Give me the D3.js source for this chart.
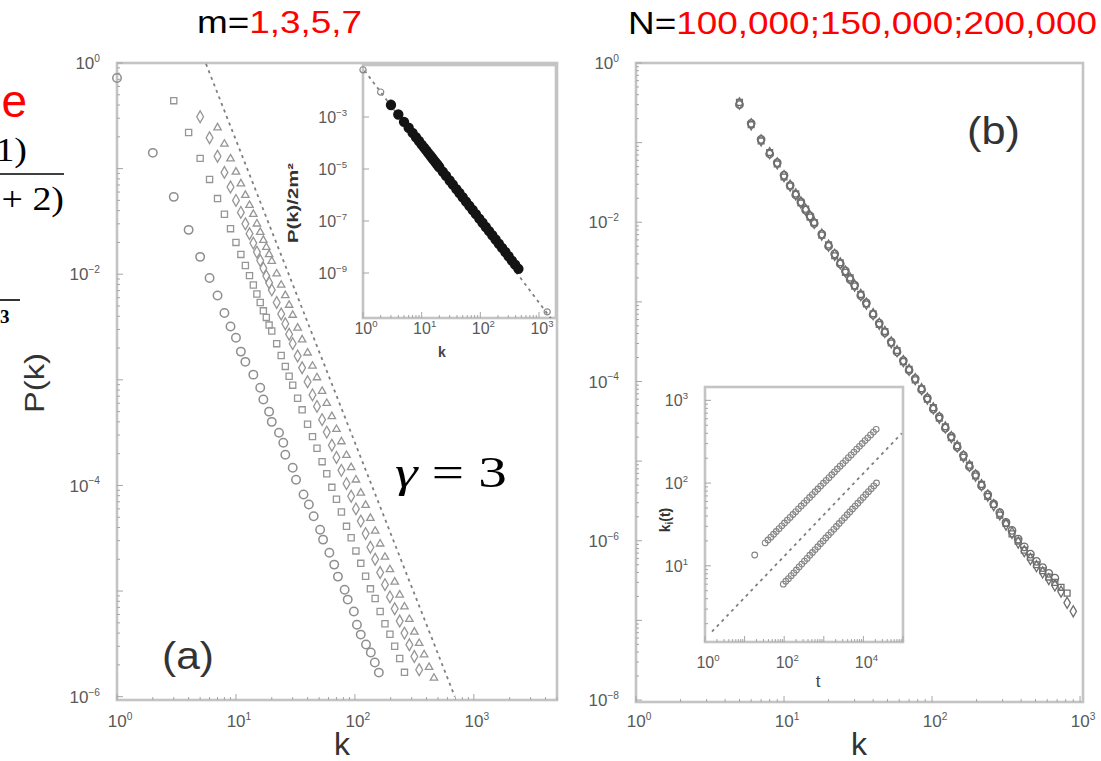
<!DOCTYPE html>
<html>
<head>
<meta charset="utf-8">
<script src="https://cdn.jsdelivr.net/npm/d3@7"></script>
<style>
  body { margin: 0; background: #fff; }
  svg { display: block; }
</style>
</head>
<body>
<svg id="chart" width="1101" height="761"></svg>
<script>
// ---- panel (a): P(k) for m = 1, 3, 5, 7 ----
const kA1 = [1,2,3,4,5,6,7,8,9,10,11,12,14,16,17,19,20,23,25,26,30,32,37,41,45,51,54,61,67,72,82,87,98,104,112,124,136,147,159];
const pA1 = [0.72,0.141,0.054,0.0263,0.0146,0.0092,0.0063,0.0043,0.0032,0.0025,0.00185,0.00148,0.00112,8.4e-4,6.5e-4,5.0e-4,4.0e-4,3.16e-4,2.54e-4,1.95e-4,1.47e-4,1.13e-4,8.2e-5,6.6e-5,5.1e-5,3.8e-5,3.07e-5,2.31e-5,1.78e-5,1.37e-5,1.03e-5,8.3e-6,6.4e-6,4.8e-6,3.87e-6,3.12e-6,2.62e-6,2.11e-6,1.69e-6];

const kA3 = [3,4,5,6,7,8,9,10,11,12,13,14,15,16,17,18,19,20,22,24,26,28,30,33,36,40,44,48,53,58,64,70,77,85,93,102,112,123,135,148,163,179,197,216,238,261];
const pA3 = [0.44,0.22,0.125,0.079,0.052,0.037,0.027,0.020,0.0154,0.0121,0.0097,0.0079,0.0065,0.0054,0.0045,0.0039,0.0033,0.0029,0.0022,0.0017,0.00134,0.00108,8.9e-4,6.7e-4,5.2e-4,3.8e-4,2.9e-4,2.25e-4,1.68e-4,1.29e-4,9.6e-5,7.4e-5,5.6e-5,4.1e-5,3.2e-5,2.4e-5,1.83e-5,1.38e-5,1.05e-5,8.5e-6,6.4e-6,4.9e-6,3.9e-6,3.0e-6,2.3e-6,1.7e-6];

const kA5 = [5,6,7,8,9,10,11,12,13,14,15,16,17,18,19,20,22,24,26,28,30,33,36,40,44,48,53,58,64,70,77,85,93,102,112,123,135,148,163,179,197,216,238,261,287,316,347];
const pA5 = [0.31,0.196,0.131,0.092,0.067,0.050,0.0385,0.030,0.0242,0.0197,0.0162,0.0135,0.0114,0.0096,0.0083,0.0071,0.0054,0.0042,0.0034,0.0027,0.0022,0.00168,0.0013,9.6e-4,7.2e-4,5.6e-4,4.2e-4,3.2e-4,2.4e-4,1.84e-4,1.39e-4,1.04e-4,7.9e-5,6.0e-5,4.6e-5,3.5e-5,2.6e-5,2.0e-5,1.5e-5,1.15e-5,8.8e-6,6.8e-6,5.2e-6,4.0e-6,3.1e-6,2.4e-6,1.8e-6];

const kA7 = [7,8,9,10,11,12,13,14,15,16,17,18,19,20,22,24,26,28,30,33,36,40,44,48,53,58,64,70,77,85,93,102,112,123,135,148,163,179,197,216,238,261,287,316,347,382,420,462];
const pA7 = [0.244,0.171,0.124,0.093,0.072,0.056,0.045,0.037,0.030,0.025,0.021,0.018,0.0154,0.0133,0.0101,0.0079,0.0063,0.0051,0.0041,0.0031,0.0024,0.0018,0.00135,0.00105,7.8e-4,6.0e-4,4.5e-4,3.4e-4,2.6e-4,1.93e-4,1.48e-4,1.13e-4,8.5e-5,6.5e-5,4.9e-5,3.7e-5,2.8e-5,2.1e-5,1.6e-5,1.22e-5,9.2e-6,7.1e-6,5.4e-6,4.1e-6,3.2e-6,2.5e-6,1.9e-6,1.5e-6];

// slope line (gamma = 3)
const dashA_k = [5.6, 692];
const dashA_p = [0.98, 1.0e-6];

// inset (a): rescaled P(k)/2m^2, collapsed band
const kIA = [3,4,5,6,7,8,9,10,11,12,13,14,15,16,17,18,19,20,23,26,30,34,39,44,50,57,65,74,84,96,109,124,141,160,182,207,235,267,303,345,392,446];
const pIA = [2.9e-3,1.25e-3,6.5e-4,3.85e-4,2.46e-4,1.67e-4,1.19e-4,8.7e-5,6.65e-5,5.2e-5,4.08e-5,3.3e-5,2.7e-5,2.24e-5,1.88e-5,1.59e-5,1.36e-5,1.17e-5,7.8e-6,5.5e-6,3.6e-6,2.52e-6,1.69e-6,1.19e-6,8.2e-7,5.6e-7,3.84e-7,2.64e-7,1.83e-7,1.24e-7,8.6e-8,5.9e-8,4.07e-8,2.82e-8,1.94e-8,1.34e-8,9.2e-9,6.4e-9,4.4e-9,3.0e-9,2.1e-9,1.45e-9];
const kIAsparse = [1, 2, 3, 1380];
const pIAsparse = [0.065, 9.1e-3, 3.5e-3, 3.2e-11];
const dashIA_k = [0.9, 1660];
const dashIA_p = [0.1, 1.6e-11];

// ---- panel (b): P(k) for N = 100,000 / 150,000 / 200,000 ----
const kB = [5,6,7,8,9,10,11,12,13,14,15,16,18,20,22,24,26,28,30,33,36,40,44,48,53,58,64,70,77,85,93,102,112,123,135,148,163,179,197,216,238,261,287,316,347,382,420,462,508,559,615,676,744,818,900];
const pB100 = [0.30,0.175,0.11,0.072,0.056,0.039,0.029,0.022,0.018,0.0142,0.0120,0.0097,0.0071,0.0050,0.0040,0.0030,0.00245,0.0019,0.00162,0.0012,9.7e-4,6.9e-4,5.4e-4,4.1e-4,3.15e-4,2.35e-4,1.83e-4,1.38e-4,1.09e-4,7.9e-5,6.2e-5,4.5e-5,3.6e-5,2.6e-5,2.05e-5,1.5e-5,1.18e-5,8.5e-6,6.8e-6,4.9e-6,3.8e-6,2.9e-6,2.25e-6,1.7e-6,1.35e-6,1.05e-6,8.4e-7,6.8e-7,5.5e-7,4.6e-7,3.9e-7,3.4e-7];
const pB150 = [0.32,0.168,0.105,0.075,0.054,0.037,0.0285,0.0227,0.0175,0.0146,0.0116,0.0099,0.0069,0.0052,0.0038,0.0031,0.00235,0.0020,0.00158,0.00124,9.4e-4,7.1e-4,5.2e-4,4.25e-4,3.05e-4,2.45e-4,1.78e-4,1.42e-4,1.05e-4,8.1e-5,6.0e-5,4.7e-5,3.45e-5,2.7e-5,1.97e-5,1.56e-5,1.12e-5,8.9e-6,6.5e-6,5.1e-6,3.6e-6,2.85e-6,2.1e-6,1.65e-6,1.22e-6,9.9e-7,7.6e-7,6.2e-7,5.0e-7,4.2e-7,3.5e-7,3.0e-7,2.6e-7,2.2e-7];
const pB200 = [0.31,0.17,0.107,0.074,0.055,0.038,0.0288,0.0224,0.0177,0.0144,0.0118,0.0098,0.0070,0.0051,0.0039,0.00305,0.0024,0.00196,0.0016,0.00122,9.5e-4,7.0e-4,5.3e-4,4.2e-4,3.1e-4,2.4e-4,1.8e-4,1.4e-4,1.07e-4,8.0e-5,6.1e-5,4.6e-5,3.5e-5,2.65e-5,2.0e-5,1.53e-5,1.15e-5,8.7e-6,6.6e-6,5.0e-6,3.7e-6,2.8e-6,2.15e-6,1.6e-6,1.26e-6,9.5e-7,7.4e-7,5.9e-7,4.8e-7,4.0e-7,3.3e-7,2.75e-7,2.3e-7,1.66e-7,1.3e-7];

// inset (b): k_i(t) for two vertices
const tIB1 = [18,33,39,46,54,63,74,87,102,120,141,166,195,229,269,316,372,437,513,603,708,832,978,1150,1350,1590,1860,2190,2580,3030,3560,4180,4910,5770,6780,7970,9360,11000,12900,15200,17900,21000];
const kIB1 = [13.5,18.9,20.5,22.2,24.1,26.0,28.1,30.4,32.9,35.6,38.5,41.7,45.1,48.8,52.8,57.2,61.9,67.0,72.5,78.5,84.9,91.9,99.4,107.7,116.4,126.2,136.4,147.8,160,173,187,203,219,237,257,278,301,326,352,382,413,446];
const tIB2 = [95,110,128,150,175,204,238,278,325,379,443,517,604,705,823,961,1120,1310,1530,1790,2090,2440,2850,3330,3890,4540,5300,6190,7230,8440,9860,11500,13400,15700,18300,21400];
const kIB2 = [6.0,6.5,7.0,7.6,8.2,8.9,9.7,10.5,11.4,12.3,13.4,14.5,15.7,17.0,18.5,20.0,21.7,23.5,25.4,27.6,29.9,32.5,35.2,38.2,41.4,44.8,48.6,52.7,57.1,61.9,67.1,72.7,78.7,85.4,92.5,100.2];
const dashIB_t = [1.5, 93000];
const dashIB_k = [1.6, 400];

// ---- scales ----
const xA = d3.scaleLog().domain([1, 5000]).range([117, 557]);
const yA = d3.scaleLog().domain([1, 9.3e-7]).range([63, 700]);
const xIA = d3.scaleLog().domain([1, 1950]).range([363, 556]);
const yIA = d3.scaleLog().domain([0.1, 1.86e-11]).range([65, 318]);
const xB = d3.scaleLog().domain([1, 1047]).range([636, 1083]);
const yB = d3.scaleLog().domain([1, 9.44e-9]).range([63, 702]);
const xIB = d3.scaleLog().domain([1, 1e5]).range([705, 903]);
const yIB = d3.scaleLog().domain([1.2, 1450]).range([642, 387]);

const svg = d3.select("#chart");
svg.append("rect").attr("width", 1101).attr("height", 761).attr("fill", "#fff");

const frameColor = "#c4c4c4";
const tickColor = "#a6a6a6";
const labelColor = "#595959";
const markColor = "#8c8c8c";

function decadeTicks(scale) {
  const [a, b] = d3.extent(scale.domain());
  const out = [];
  for (let e = Math.floor(Math.log10(a)); e <= Math.ceil(Math.log10(b)); e++) {
    for (let m = 1; m <= 9; m++) {
      const v = m * Math.pow(10, e);
      if (v >= a * 0.999 && v <= b * 1.001) out.push({ v: v, major: m === 1 });
    }
  }
  return out;
}

function powLabel(g, x, y, exp, anchor, size) {
  const t = g.append("text")
    .attr("x", x).attr("y", y)
    .attr("text-anchor", anchor)
    .attr("font-family", "Liberation Sans, Arial, sans-serif")
    .attr("font-size", size)
    .attr("fill", labelColor);
  t.append("tspan").text("10");
  t.append("tspan").attr("dy", -size * 0.42).attr("font-size", size * 0.6)
    .text(String(exp).replace("-", "\u2212"));
}

function drawAxes(x, y, o) {
  const [x0, x1] = x.range(), [y0, y1] = y.range().slice().sort((a, b) => a - b);
  const g = svg.append("g");
  g.append("rect")
    .attr("x", x0).attr("y", y0)
    .attr("width", x1 - x0).attr("height", y1 - y0)
    .attr("fill", o.fill || "none")
    .attr("stroke", frameColor).attr("stroke-width", 2.6);

  decadeTicks(x).forEach(t => {
    g.append("line")
      .attr("x1", x(t.v)).attr("x2", x(t.v))
      .attr("y1", y1).attr("y2", y1 - (t.major ? 6 : 3))
      .attr("stroke", tickColor).attr("stroke-width", 1);
  });
  const yt = o.yMajorOnly
    ? o.yLabels.map(e => ({ v: Math.pow(10, e), major: true }))
    : decadeTicks(y);
  yt.forEach(t => {
    g.append("line")
      .attr("x1", x0).attr("x2", x0 + (t.major ? 6 : 3))
      .attr("y1", y(t.v)).attr("y2", y(t.v))
      .attr("stroke", tickColor).attr("stroke-width", 1);
  });

  o.xLabels.forEach(e => powLabel(g, x(Math.pow(10, e)) + 3, o.xLabelY, e, "middle", o.fontSize));
  o.yLabels.forEach(e => powLabel(g, x0 - o.yLabelGap, y(Math.pow(10, e)) + o.fontSize * 0.36, e, "end", o.fontSize));
  return g;
}

function clipRect(id, x, y) {
  const [x0, x1] = x.range(), [y0, y1] = y.range().slice().sort((a, b) => a - b);
  svg.append("clipPath").attr("id", id).append("rect")
    .attr("x", x0).attr("y", y0).attr("width", x1 - x0).attr("height", y1 - y0);
}

function drawSymbols(g, x, y, ks, ps, type, size, style) {
  g.append("g").selectAll("path")
    .data(d3.zip(ks, ps))
    .join("path")
    .attr("transform", d => `translate(${x(d[0])},${y(d[1])})`)
    .attr("d", d3.symbol().type(type).size(size))
    .attr("fill", style.fill || "none")
    .attr("stroke", style.stroke || markColor)
    .attr("stroke-width", style.width || 1.3);
}

function drawDashed(g, x, y, xs, ys, clip) {
  g.append("path")
    .datum(d3.zip(xs, ys))
    .attr("d", d3.line().x(d => x(d[0])).y(d => y(d[1])))
    .attr("clip-path", `url(#${clip})`)
    .attr("fill", "none")
    .attr("stroke", "#7f7f7f")
    .attr("stroke-width", 1.8)
    .attr("stroke-dasharray", "3,4");
}

function addText(str, x, y, o) {
  const t = svg.append("text")
    .attr("text-anchor", o.anchor || "start")
    .attr("font-family", o.family || "Liberation Sans, Arial, sans-serif")
    .attr("font-size", o.size)
    .attr("font-weight", o.weight || "normal")
    .attr("font-style", o.style || "normal")
    .attr("fill", o.fill || "#000")
    .text(str);
  if (o.len) t.attr("textLength", o.len).attr("lengthAdjust", "spacingAndGlyphs");
  if (o.sx) {
    t.attr("x", 0).attr("y", 0).attr("transform", `translate(${x},${y}) scale(${o.sx},1)`);
  } else {
    t.attr("x", x).attr("y", y);
    if (o.rotate) t.attr("transform", `rotate(${o.rotate},${x},${y})`);
  }
  return t;
}

// ---- panel (a) ----
clipRect("clipA", xA, yA);
drawAxes(xA, yA, { xLabels: [0, 1, 2, 3], yLabels: [0, -2, -4, -6], xLabelY: 727, yLabelGap: 17, fontSize: 17 });
const gA = svg.append("g");
drawSymbols(gA, xA, yA, kA1, pA1, d3.symbolCircle, 56, { stroke: "#8e8e8e", width: 1.5 });
drawSymbols(gA, xA, yA, kA3, pA3, d3.symbolSquare, 38, { stroke: "#969696" });
drawSymbols(gA, xA, yA, kA5, pA5, d3.symbolDiamond, 40, { stroke: "#969696" });
drawSymbols(gA, xA, yA, kA7, pA7, d3.symbolTriangle, 24, { stroke: "#969696" });
drawDashed(gA, xA, yA, dashA_k, dashA_p, "clipA");

// inset (a)
clipRect("clipIA", xIA, yIA);
drawAxes(xIA, yIA, { fill: "#fff", xLabels: [0, 1, 2, 3], yLabels: [-3, -5, -7, -9], yMajorOnly: true, xLabelY: 334, yLabelGap: 16, fontSize: 16 });
const gIA = svg.append("g");
drawDashed(gIA, xIA, yIA, dashIA_k, dashIA_p, "clipIA");
drawSymbols(gIA, xIA, yIA, kIAsparse, pIAsparse, d3.symbolCircle, 30, { stroke: "#888", width: 1.2 });
drawSymbols(gIA, xIA, yIA, kIA, pIA, d3.symbolCircle, 58, { fill: "#141414", stroke: "#141414", width: 1.8 });

// ---- panel (b) ----
clipRect("clipB", xB, yB);
drawAxes(xB, yB, { xLabels: [0, 1, 2, 3], yLabels: [0, -2, -4, -6, -8], xLabelY: 727, yLabelGap: 17, fontSize: 17 });
const gB = svg.append("g");
drawSymbols(gB, xB, yB, kB.slice(0, pB100.length), pB100, d3.symbolCircle, 44, { stroke: "#6f6f6f" });
drawSymbols(gB, xB, yB, kB.slice(0, pB150.length), pB150, d3.symbolSquare, 34, { stroke: "#6f6f6f" });
drawSymbols(gB, xB, yB, kB, pB200, d3.symbolDiamond, 36, { stroke: "#6f6f6f" });

// inset (b)
clipRect("clipIB", xIB, yIB);
drawAxes(xIB, yIB, { fill: "#fff", xLabels: [0, 2, 4], yLabels: [1, 2, 3], xLabelY: 668, yLabelGap: 17, fontSize: 16 });
const gIB = svg.append("g");
drawDashed(gIB, xIB, yIB, dashIB_t, dashIB_k, "clipIB");
drawSymbols(gIB, xIB, yIB, tIB1, kIB1, d3.symbolCircle, 26, { stroke: "#858585", width: 1.1 });
drawSymbols(gIB, xIB, yIB, tIB2, kIB2, d3.symbolCircle, 26, { stroke: "#858585", width: 1.1 });

// ---- texts ----
const title1 = addText("", 197, 33, { size: 32, len: 165 });
title1.append("tspan").text("m=");
title1.append("tspan").attr("fill", "#ff0000").text("1,3,5,7");
const title2 = addText("", 628, 34, { size: 32, len: 469 });
title2.append("tspan").text("N=");
title2.append("tspan").attr("fill", "#ff0000").text("100,000;150,000;200,000");

addText("P(k)", 44, 383, { size: 28, anchor: "middle", rotate: -90, fill: "#333", len: 60 });
addText("k", 342, 755, { size: 32, anchor: "middle", fill: "#333" });
addText("k", 859, 755, { size: 32, anchor: "middle", fill: "#333" });
addText("(a)", 162, 669, { size: 38, fill: "#333", len: 52 });
addText("(b)", 967, 144, { size: 38, fill: "#333", len: 53 });

const gamma = addText("", 395, 487, { size: 44, family: "Liberation Serif, Times New Roman, serif", len: 112 });
gamma.append("tspan").attr("font-style", "italic").text("\u03b3");
gamma.append("tspan").text(" = 3");

// inset axis titles
addText("P(k)/2m\u00b2", 298, 203, { size: 14, weight: "bold", anchor: "middle", rotate: -90, fill: "#333", len: 80 });
addText("k", 442, 357, { size: 14, weight: "bold", anchor: "middle", fill: "#444" });
const kit = addText("", 670, 520, { size: 14, weight: "bold", anchor: "middle", rotate: -90, fill: "#333" });
kit.append("tspan").text("k");
kit.append("tspan").attr("font-size", 10).attr("dy", 3).text("i");
kit.append("tspan").attr("dy", -3).text("(t)");
addText("t", 818, 687, { size: 17, anchor: "middle", fill: "#444" });

// slide text cut off at the left edge
const serif = "Liberation Serif, Times New Roman, serif";
addText("Scale-free", 27, 117, { size: 46, anchor: "end", fill: "#ff0000" });
addText("2m(m + 1)", 27, 161, { size: 33, anchor: "end", family: serif, sx: 1.15 });
svg.append("line").attr("x1", -10).attr("x2", 64).attr("y1", 174).attr("y2", 174).attr("stroke", "#000").attr("stroke-width", 1.6);
addText("k(k + 1)(k + 2)", 64, 210, { size: 33, anchor: "end", family: serif, sx: 1.15 });
addText("2m\u00b2", 0, 292, { size: 30, anchor: "end", family: serif });
svg.append("line").attr("x1", -10).attr("x2", 20).attr("y1", 300).attr("y2", 300).attr("stroke", "#000").attr("stroke-width", 1.6);
addText("k", -1, 335, { size: 30, anchor: "end", family: serif });
addText("3", 0, 323, { size: 19, weight: "bold", family: serif });
</script>
</body>
</html>
